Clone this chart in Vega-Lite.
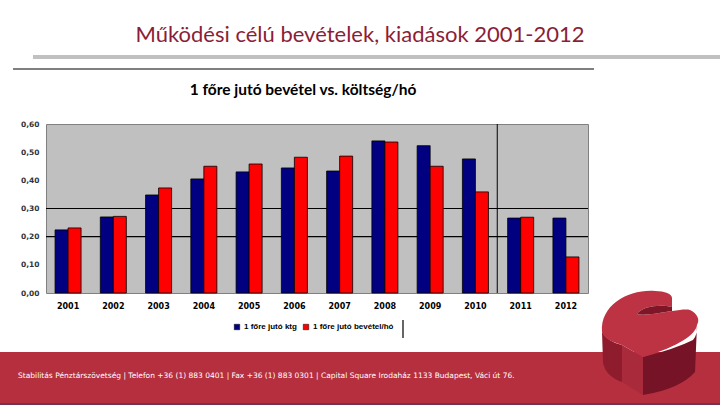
{
  "$schema": "https://vega.github.io/schema/vega-lite/v6.json",
  "width": 542,
  "height": 169,
  "autosize": {"type": "none"},
  "padding": {"left": 46, "top": 124, "right": 132, "bottom": 112},
  "background": "white",
  "config": {
    "view": {"fill": "#C0C0C0", "stroke": "#808080", "strokeWidth": 1},
    "font": "DejaVu Sans",
    "axisY": {
      "labelOverlap": false,
      "labelFontSize": 7.5,
      "labelFontWeight": "bold",
      "labelColor": "#333333",
      "labelPadding": 7,
      "grid": false,
      "domain": false,
      "ticks": false,
      "title": null
    }
  },
  "datasets": {
    "bars": [
      {"year": "2001", "series": "1 főre jutó ktg", "value": 0.224},
      {"year": "2001", "series": "1 főre jutó bevétel/hó", "value": 0.231},
      {"year": "2002", "series": "1 főre jutó ktg", "value": 0.270},
      {"year": "2002", "series": "1 főre jutó bevétel/hó", "value": 0.272},
      {"year": "2003", "series": "1 főre jutó ktg", "value": 0.348},
      {"year": "2003", "series": "1 főre jutó bevétel/hó", "value": 0.373},
      {"year": "2004", "series": "1 főre jutó ktg", "value": 0.405},
      {"year": "2004", "series": "1 főre jutó bevétel/hó", "value": 0.450},
      {"year": "2005", "series": "1 főre jutó ktg", "value": 0.430},
      {"year": "2005", "series": "1 főre jutó bevétel/hó", "value": 0.458},
      {"year": "2006", "series": "1 főre jutó ktg", "value": 0.444},
      {"year": "2006", "series": "1 főre jutó bevétel/hó", "value": 0.482},
      {"year": "2007", "series": "1 főre jutó ktg", "value": 0.433},
      {"year": "2007", "series": "1 főre jutó bevétel/hó", "value": 0.486},
      {"year": "2008", "series": "1 főre jutó ktg", "value": 0.540},
      {"year": "2008", "series": "1 főre jutó bevétel/hó", "value": 0.536},
      {"year": "2009", "series": "1 főre jutó ktg", "value": 0.523},
      {"year": "2009", "series": "1 főre jutó bevétel/hó", "value": 0.450},
      {"year": "2010", "series": "1 főre jutó ktg", "value": 0.476},
      {"year": "2010", "series": "1 főre jutó bevétel/hó", "value": 0.359},
      {"year": "2011", "series": "1 főre jutó ktg", "value": 0.266},
      {"year": "2011", "series": "1 főre jutó bevétel/hó", "value": 0.269},
      {"year": "2012", "series": "1 főre jutó ktg", "value": 0.266},
      {"year": "2012", "series": "1 főre jutó bevétel/hó", "value": 0.128}
    ]
  },
  "layer": [
    {
      "data": {"values": [{"value": 0.2}, {"value": 0.3}]},
      "mark": {"type": "rule", "color": "#000000", "strokeWidth": 1.2},
      "encoding": {
        "y": {
          "field": "value",
          "type": "quantitative",
          "scale": {"domain": [0, 0.6], "nice": false},
          "axis": {
            "values": [0, 0.1, 0.2, 0.3, 0.4, 0.5, 0.6],
            "labelExpr": "replace(format(datum.value, '.2f'), '.', ',')"
          }
        }
      }
    },
    {
      "data": {"name": "bars"},
      "mark": {"type": "bar", "stroke": "#000000", "strokeWidth": 0.8},
      "encoding": {
        "x": {
          "field": "year",
          "type": "nominal",
          "scale": {"paddingInner": 0.425, "paddingOuter": 0.2},
          "axis": {
            "title": null,
            "labelAngle": 0,
            "labelFontSize": 8,
            "labelFontWeight": "bold",
            "labelColor": "#000000",
            "labelPadding": 9,
            "ticks": false,
            "domain": false
          }
        },
        "xOffset": {
          "field": "series",
          "type": "nominal",
          "sort": ["1 főre jutó ktg", "1 főre jutó bevétel/hó"]
        },
        "y": {
          "field": "value",
          "type": "quantitative",
          "scale": {"domain": [0, 0.6], "nice": false},
          "axis": {
            "values": [0, 0.1, 0.2, 0.3, 0.4, 0.5, 0.6],
            "labelExpr": "replace(format(datum.value, '.2f'), '.', ',')"
          }
        },
        "color": {
          "field": "series",
          "type": "nominal",
          "scale": {
            "domain": ["1 főre jutó ktg", "1 főre jutó bevétel/hó"],
            "range": ["#000080", "#FF0000"]
          },
          "legend": {
            "title": null,
            "orient": "none",
            "legendX": 187,
            "legendY": 199,
            "direction": "horizontal",
            "symbolType": "square",
            "symbolSize": 30,
            "symbolStrokeColor": "#000000",
            "symbolStrokeWidth": 0.5,
            "labelFont": "Liberation Sans",
            "labelFontSize": 8,
            "labelFontWeight": "bold",
            "labelColor": "#000000",
            "labelOffset": 3,
            "columnPadding": 5
          }
        }
      }
    },
    {
      "data": {"values": [{"year": "2011"}]},
      "mark": {"type": "rule", "color": "#000000", "strokeWidth": 1},
      "encoding": {
        "x": {"field": "year", "type": "nominal", "bandPosition": -0.4}
      }
    },
    {
      "data": {"values": [{}]},
      "mark": {"type": "rule", "color": "#C0C0C0", "strokeWidth": 4, "clip": false},
      "encoding": {"x": {"value": -13}, "x2": {"value": 674}, "y": {"value": -67}}
    },
    {
      "data": {"values": [{}]},
      "mark": {"type": "rule", "color": "#000000", "strokeWidth": 1, "clip": false},
      "encoding": {"x": {"value": -33}, "x2": {"value": 548}, "y": {"value": -55}}
    },
    {
      "data": {"values": [{}]},
      "mark": {"type": "rule", "color": "#000000", "strokeWidth": 1.2, "clip": false},
      "encoding": {"x": {"value": 357}, "y": {"value": 196}, "y2": {"value": 214}}
    },
    {
      "data": {"values": [{}]},
      "mark": {"type": "text", "font": "Lato", "fontSize": 22, "color": "#8B1E36", "align": "center", "baseline": "middle"},
      "encoding": {"x": {"value": 314}, "y": {"value": -89}, "text": {"value": "Működési célú bevételek, kiadások 2001-2012"}}
    },
    {
      "data": {"values": [{}]},
      "mark": {"type": "text", "font": "Lato", "fontSize": 15.5, "fontWeight": "bold", "color": "#000000", "align": "center", "baseline": "middle"},
      "encoding": {"x": {"value": 257}, "y": {"value": -34}, "text": {"value": "1 főre jutó bevétel vs. költség/hó"}}
    },
    {
      "data": {"values": [{}]},
      "mark": {"type": "rect", "color": "#B52F3F", "clip": false},
      "encoding": {"x": {"value": -46}, "x2": {"value": 674}, "y": {"value": 228}, "y2": {"value": 281}}
    },
    {
      "data": {"values": [{}]},
      "mark": {"type": "rect", "color": "#6E3456", "clip": false},
      "encoding": {"x": {"value": -46}, "x2": {"value": 674}, "y": {"value": 279}, "y2": {"value": 281}}
    },
    {
      "data": {"values": [{}]},
      "mark": {"type": "text", "font": "DejaVu Sans", "fontSize": 7.5, "color": "#FFFFFF", "align": "left", "baseline": "middle"},
      "encoding": {"x": {"value": -28}, "y": {"value": 252}, "text": {"value": "Stabilitás Pénztárszövetség | Telefon +36 (1) 883 0401 | Fax +36 (1) 883 0301 |  Capital Square Irodaház 1133 Budapest, Váci út 76."}}
    },
    {
      "data": {"values": [{}]},
      "mark": {"type": "point", "filled": true, "opacity": 1, "strokeWidth": 0, "color": "#761327", "size": 4, "shape": "M-7 13 Q25 5 43 -4 Q48 -10 47 -19 L45 28 Q30 45 -7 51 Z"},
      "encoding": {"x": {"value": 604}, "y": {"value": 220}}
    },
    {
      "data": {"values": [{}]},
      "mark": {"type": "point", "filled": true, "opacity": 1, "strokeWidth": 0, "color": "#8E1C2C", "size": 4, "shape": "M-48 -12 L-47 18 Q-45 32 -28 38 L-28 1 Q-42 -2 -48 -12 Z"},
      "encoding": {"x": {"value": 604}, "y": {"value": 220}}
    },
    {
      "data": {"values": [{}]},
      "mark": {"type": "point", "filled": true, "opacity": 1, "strokeWidth": 0, "color": "#A92B3B", "size": 4, "shape": "M-28 1 L-7 13 L-7 51 L-28 38 Z"},
      "encoding": {"x": {"value": 604}, "y": {"value": 220}}
    },
    {
      "data": {"values": [{}]},
      "mark": {"type": "point", "filled": true, "opacity": 1, "strokeWidth": 0, "color": "#BE3344", "size": 4, "shape": "M-48 -12 C-50 -40 -20 -55 5 -53 C15 -53 22 -50 22 -46 L22 -37 C10 -40 -8 -38 -13 -30 C-8 -28 10 -31 22 -33 C30 -34 36 -35 40 -34 C48 -30 50 -24 47 -19 C46 -10 30 2 -7 13 L-28 1 C-38 -2 -46 -6 -48 -12 Z"},
      "encoding": {"x": {"value": 604}, "y": {"value": 220}}
    },
    {
      "data": {"values": [{}]},
      "mark": {"type": "point", "filled": true, "opacity": 1, "strokeWidth": 0, "color": "#7E1628", "size": 4, "shape": "M22 -37 C10 -40 -8 -38 -13 -30 C-8 -28 10 -31 22 -33 Z"},
      "encoding": {"x": {"value": 604}, "y": {"value": 220}}
    }
  ]
}
